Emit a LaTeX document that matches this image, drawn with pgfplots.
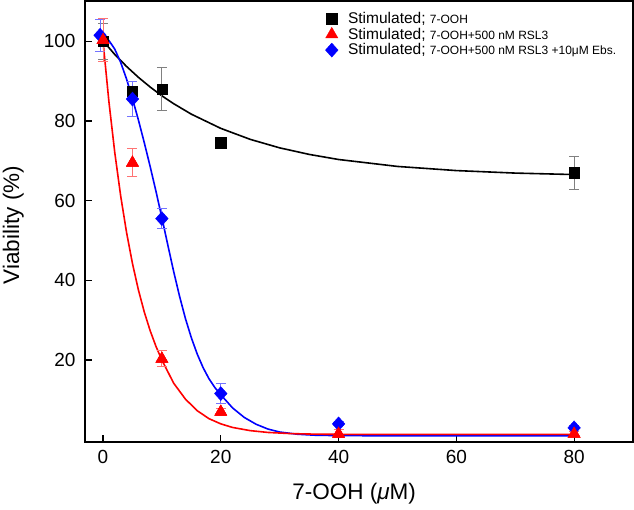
\documentclass[border=0pt]{standalone}
\usepackage{fontspec}
\setmainfont{Liberation Sans}
\usepackage{pgfplots}
\pgfplotsset{compat=1.18}
\begin{document}
\begin{tikzpicture}
\useasboundingbox (-85pt,-68pt) rectangle (549pt,442pt);
\begin{axis}[
    scale only axis, width=548pt, height=441pt,
    xmin=-3.06, xmax=90, ymin=-0.55, ymax=110.1,
    xtick={0,20,40,60,80}, ytick={20,40,60,80,100},
    tick pos=left, tick align=inside, major tick length=7pt,
    axis line style={line width=1.5pt},
    tick style={line width=1.2pt, black},
    ticklabel style={font=\fontsize{19}{21}\selectfont},
    xticklabel style={yshift=-5pt},
    yticklabel style={xshift=-6pt},
    /pgf/number format/assume math mode=true,
    xlabel={7-OOH (\textit{μ}M)}, ylabel={Viability (\%)},
    label style={font=\fontsize{22.5}{25}\selectfont},
    xlabel style={at={(axis description cs:0.491,-0.118)}, anchor=center},
    ylabel style={at={(axis description cs:-0.131,0.492)}, anchor=center},
    legend cell align=left,
    legend style={draw=none, fill=none, at={(axis description cs:0.433,0.984)},
        anchor=north west, font=\fontsize{15.5}{17}\selectfont,
        row sep=-1pt, column sep=8pt},
]
% fitted curves
\addplot[black, line width=1.6pt, forget plot] coordinates {
 (0.3,99.6)(2,96.67)(4,93.67)(6,90.96)(8,88.52)(10,86.31)(12,84.33)(15,81.70)
 (20,78.14)(25,75.38)(30,73.25)(35,71.61)(40,70.33)(50,68.59)(60,67.55)(70,66.92)(80,66.55)};
\addplot[blue, line width=1.6pt, forget plot] coordinates {
 (-0.5,101.3)(1,100.2)(2,98.0)(3,94.7)(4,90.5)(5,85.6)(6,80.3)(7,74.6)(8,68.6)(9,62.3)
 (10,55.7)(11,48.9)(12,42.2)(13,36.0)(14,30.4)(15,25.6)(16,21.5)(17,18.1)(18,15.3)(19,13.1)
 (20,11.3)(22,8.0)(24,5.6)(26,3.9)(28,2.7)(30,1.95)(33,1.4)(36,1.15)(40,1.05)(50,1.0)(80,1.0)};
\addplot[red, line width=1.6pt, forget plot] coordinates {
 (0,100)(1,84.85)(2,72.03)(3,61.18)(4,52.00)(5,44.24)(6,37.66)(7,32.10)(8,27.40)(9,23.41)
 (10,20.0)(12,14.2)(14,10.2)(16,7.3)(18,5.3)(20,4.0)(22,3.1)(25,2.3)(28,1.85)
 (32,1.55)(36,1.42)(40,1.38)(50,1.35)(80,1.35)};
% error bars
\addplot[only marks, mark=none, forget plot,
    error bars/.cd, y dir=both, y explicit,
    error bar style={black!50, line width=0.9pt},
    error mark options={rotate=90, mark size=5pt, black!50, line width=0.9pt}]
 coordinates {(0,100) +- (0,4.5) (5,87.5) +- (0,1) (10,88) +- (0,5.4) (20,74.5) +- (0,0.5) (80,67) +- (0,4.2)};
\addplot[only marks, mark=none, forget plot,
    error bars/.cd, y dir=both, y explicit,
    error bar style={blue!55, line width=0.9pt},
    error mark options={rotate=90, mark size=5pt, blue!55, line width=0.9pt}]
 coordinates {(-0.5,101.5) +- (0,4) (5,85.5) +- (0,4.4) (10,55.5) +- (0,2.5) (20,11.6) +- (0,2.5) (40,4) +- (0,0.5) (80,3) +- (0,0.5)};
\addplot[only marks, mark=none, forget plot,
    error bars/.cd, y dir=both, y explicit,
    error bar style={red!55, line width=0.9pt},
    error mark options={rotate=90, mark size=5pt, red!55, line width=0.9pt}]
 coordinates {(0,100.3) +- (0,5.3) (5,69.5) +- (0,3.5) (10,20.3) +- (0,2) (20,7) +- (0,0.8) (40,1.5) +- (0,1) (80,1.5) +- (0,0.5)};
% data points
\addplot[only marks, mark=square*, mark size=5.2pt, black] coordinates {
 (0,100)(5,87.5)(10,88)(20,74.5)(80,67)};
\addplot[only marks, mark=triangle*, mark size=7pt, red] coordinates {
 (0,100.3)(5,69.5)(10,20.3)(20,7)(40,1.5)(80,1.5)};
\addplot[only marks, mark=diamond*, mark size=7pt, blue, mark options={xscale=1.2}] coordinates {
 (-0.5,101.5)(5,85.5)(10,55.5)(20,11.6)(40,4)(80,3)};
% red marks again so they sit on top, as in the original
\addplot[only marks, mark=triangle*, mark size=7pt, red, forget plot] coordinates {
 (0,100.3)(5,69.5)(10,20.3)(20,7)(40,1.5)(80,1.5)};
\legend{Stimulated; {\fontsize{12}{14}\selectfont 7-OOH},
        Stimulated; {\fontsize{12}{14}\selectfont 7-OOH+500 nM RSL3},
        Stimulated; {\fontsize{12}{14}\selectfont 7-OOH+500 nM RSL3 +10μM Ebs.}}
\end{axis}
\end{tikzpicture}
\end{document}
